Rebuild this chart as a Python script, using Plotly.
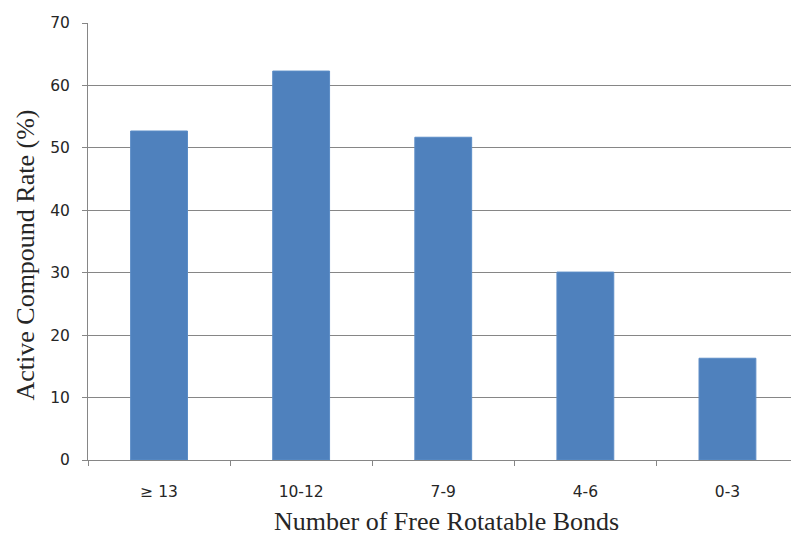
import plotly.graph_objects as go

categories = ["≥ 13", "10-12", "7-9", "4-6", "0-3"]
active_rate = [52.7, 62.3, 51.7, 30.1, 16.3]
y_ticks = [0, 10, 20, 30, 40, 50, 60, 70]

fig = go.Figure()
fig.add_trace(go.Bar(
    x=categories, y=active_rate,
    marker=dict(color="#4F81BD", line=dict(color="#5B8CC6", width=1)),
    width=0.4,
))

W, H = 791, 535
left, top, bottom = 88, 23, 75
plot_w, plot_h = W - left, H - top - bottom
cat_px = 142.1
right_val = -0.5 + plot_w / cat_px

tick_font = dict(family="DejaVu Sans", size=15.5, color="#262626")
title_font = dict(family="Liberation Serif", size=26, color="#262626")

def px_to_paper_x(px):
    return (px - left) / plot_w

def px_to_paper_y(py):
    return (H - bottom - py) / plot_h

fig.update_layout(
    width=W, height=H,
    margin=dict(l=left, r=0, t=top, b=bottom),
    plot_bgcolor="white", paper_bgcolor="white",
    showlegend=False,
    xaxis=dict(
        type="category",
        range=[-0.5, right_val],
        showline=True, linecolor="#868686", linewidth=1,
        ticks="outside", tickson="boundaries", ticklen=5, tickcolor="#868686",
        tickfont=tick_font,
        ticklabelstandoff=17,
        showgrid=False,
    ),
    yaxis=dict(
        range=[0, 70], tickvals=y_ticks,
        showline=True, linecolor="#868686", linewidth=1,
        ticks="outside", ticklen=5, tickcolor="#868686",
        tickfont=tick_font,
        ticklabelstandoff=9,
        showgrid=True, gridcolor="#868686", gridwidth=1,
        zeroline=False,
    ),
    annotations=[
        dict(text="Number of Free Rotatable Bonds", font=title_font, showarrow=False,
             xref="paper", yref="paper", x=px_to_paper_x(446.5), y=px_to_paper_y(521),
             xanchor="center", yanchor="middle"),
        dict(text="Active Compound Rate (%)", font=title_font, showarrow=False,
             textangle=-90,
             xref="paper", yref="paper", x=px_to_paper_x(24.5), y=px_to_paper_y(255),
             xanchor="center", yanchor="middle"),
    ],
)

fig.write_html("out.html")
